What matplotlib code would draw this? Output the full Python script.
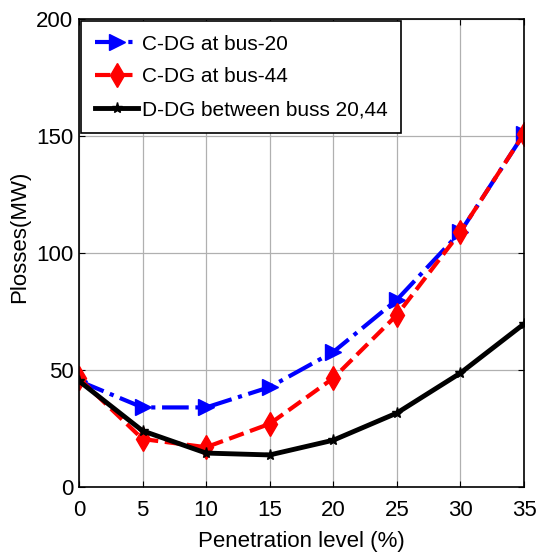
import matplotlib
matplotlib.use("Agg")
import matplotlib.pyplot as plt

plt.rcParams['font.family'] = ['Liberation Sans', 'DejaVu Sans']

penetration = [0, 5, 10, 15, 20, 25, 30, 35]
cdg_bus20 = [45.3, 34, 34, 42.7, 57.7, 80, 109, 151]
cdg_bus44 = [46.5, 20.5, 17, 27, 46.5, 73.5, 109, 151]
ddg_20_44 = [45.3, 24, 14.5, 13.7, 20, 31.6, 48.7, 69.7]

x_ticks = [0, 5, 10, 15, 20, 25, 30, 35]
y_ticks = [0, 50, 100, 150, 200]

fig = plt.figure(figsize=(5.37, 5.58), dpi=100)
ax = fig.add_axes([79/537, 1 - 487/558, (524-79)/537, (487-19)/558])

ax.plot(penetration, cdg_bus20, color='#0000ff', linestyle='-.', linewidth=3,
        marker='>', markersize=12, label='C-DG at bus-20')
ax.plot(penetration, cdg_bus44, color='#ff0000', linestyle='--', linewidth=3,
        marker='d', markersize=12, label='C-DG at bus-44')
ax.plot(penetration, ddg_20_44, color='black', linestyle='-', linewidth=3.5,
        marker='*', markersize=8, label='D-DG between buss 20,44')

ax.set_xlim(0, 35)
ax.set_ylim(0, 200)
ax.set_xticks(x_ticks)
ax.set_yticks(y_ticks)
ax.grid(True, color='#b0b0b0', linewidth=0.9)
ax.tick_params(direction='in', top=True, right=True, labelsize=16, length=4)
ax.tick_params(axis='x', pad=9)
ax.tick_params(axis='y', pad=4)
for s in ax.spines.values():
    s.set_linewidth(1.2)

ax.set_xlabel('Penetration level (%)', fontsize=16)
ax.set_ylabel('Plosses(MW)', fontsize=16)
ax.xaxis.set_label_coords(0.5, -0.095)
ax.yaxis.set_label_coords(-0.11, 0.534)

leg = ax.legend(loc='upper left', fontsize=15, fancybox=False, framealpha=1,
                edgecolor='black', borderaxespad=0.1, handlelength=2.1,
                handletextpad=0.15, labelspacing=0.66, borderpad=0.65)
leg.get_frame().set_linewidth(1.2)

fig.savefig('out.png', dpi=100)
